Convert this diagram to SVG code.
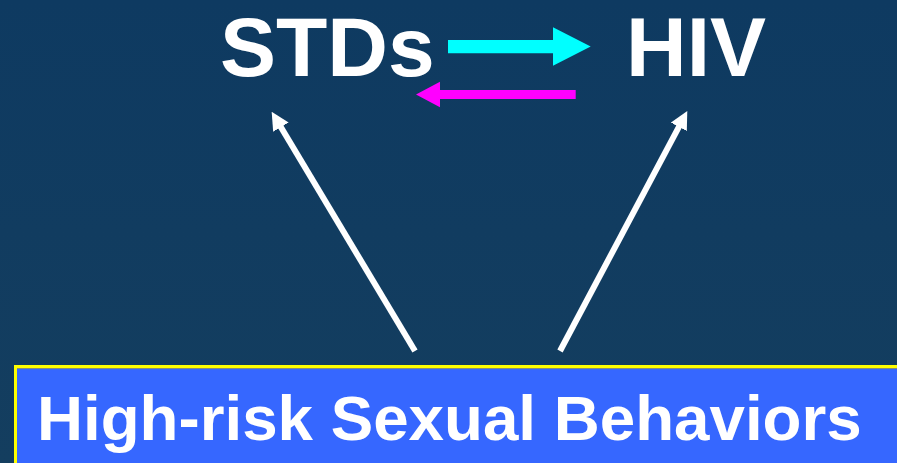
<svg xmlns="http://www.w3.org/2000/svg" width="897" height="463" viewBox="0 0 897 463">
<defs>
<linearGradient id="bg" x1="0" y1="0" x2="0" y2="1">
<stop offset="0" stop-color="#0e3a61"/>
<stop offset="1" stop-color="#143e5f"/>
</linearGradient>
<marker id="wh" viewBox="0 0 18 18" refX="8" refY="9" markerWidth="18" markerHeight="18" orient="auto" markerUnits="userSpaceOnUse">
<path d="M0,0 L18,9 L0,18 Z" fill="#ffffff"/>
</marker>
<style>
.lbl{font-family:"Liberation Sans",Arial,sans-serif;font-weight:bold;fill:#ffffff}
.wl{stroke:#ffffff;stroke-width:6;fill:none}
</style>
</defs>
<rect x="0" y="0" width="897" height="463" fill="url(#bg)"/>
<g id="connectors">
<path d="M448,40 H553 V27.3 L590.7,46.5 L553,65.7 V53.3 H448 Z" fill="#00ffff"/>
<path d="M575.7,90 H440 V81.7 L416,94.5 L440,107.3 V99 H575.7 Z" fill="#ff00ff"/>
<line class="wl" x1="415" y1="351" x2="276.8" y2="120.3" marker-end="url(#wh)"/>
<line class="wl" x1="560" y1="351" x2="682.6" y2="119.8" marker-end="url(#wh)"/>
</g>
<g id="node-stds">
<text class="lbl" x="220" y="76" font-size="84">STDs</text>
</g>
<g id="node-hiv">
<text class="lbl" x="626" y="76" font-size="84">HIV</text>
</g>
<g id="node-behaviors">
<rect x="15.5" y="366.5" width="900" height="120" fill="#3667ff" stroke="#ffff00" stroke-width="3"/>
<line x1="17" y1="368.5" x2="897" y2="368.5" stroke="#8a8f70" stroke-width="1"/>
<text class="lbl" x="37" y="440" font-size="63.7">High-risk Sexual Behaviors</text>
</g>
</svg>
